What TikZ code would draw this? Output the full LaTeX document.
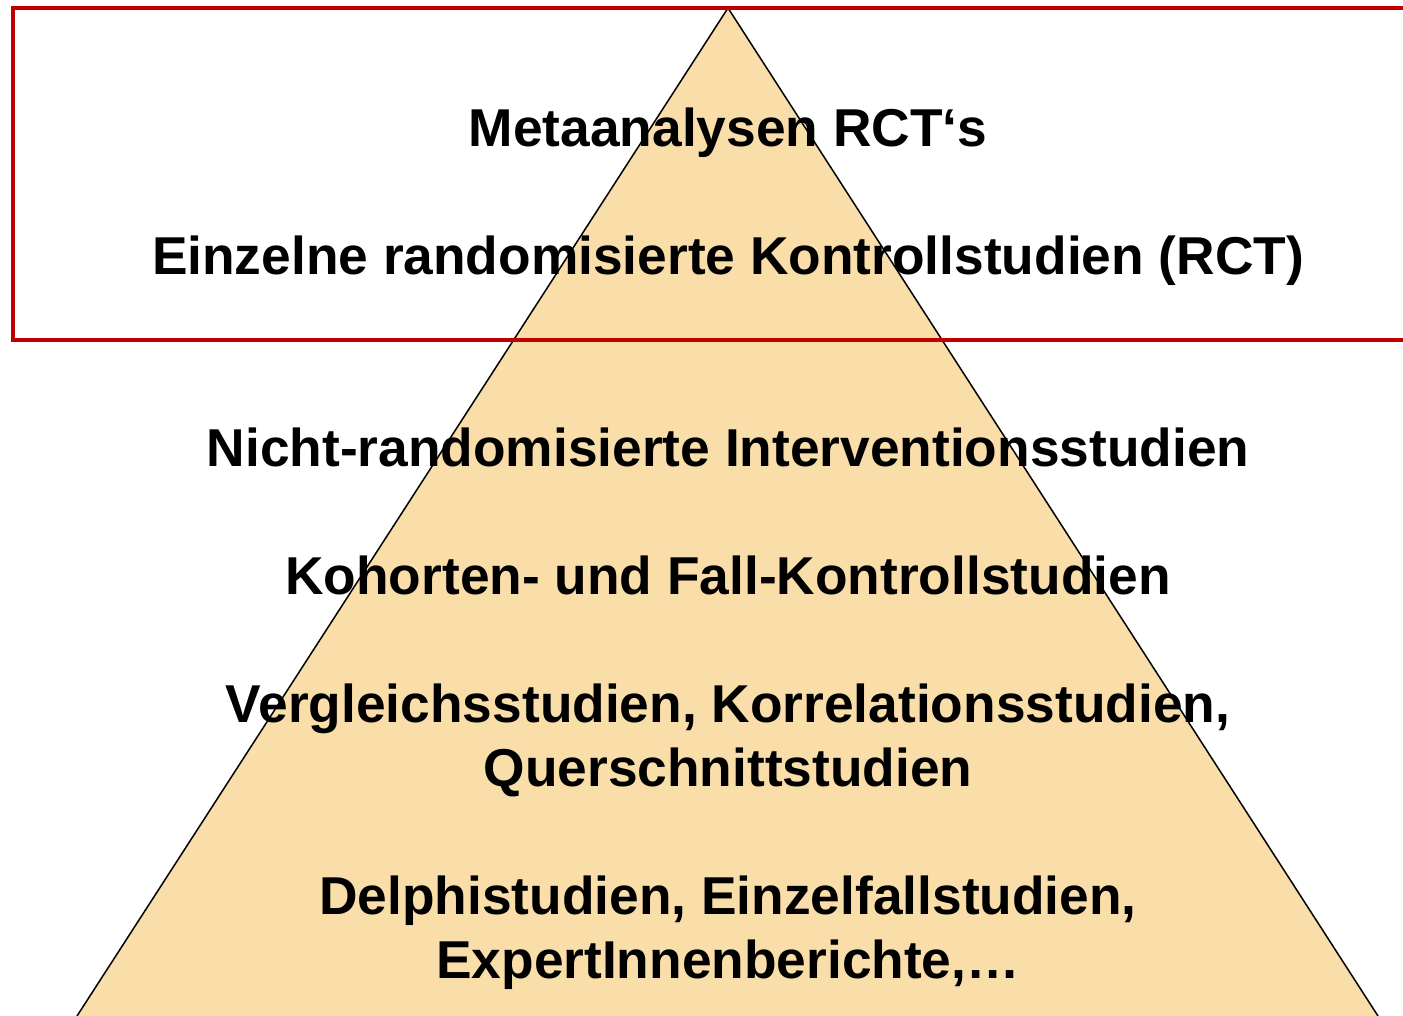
\documentclass[tikz,border=0pt]{standalone}
\usepackage{fontspec}
\setmainfont{Liberation Sans}
\definecolor{pyrfill}{HTML}{F9DEA9}
\definecolor{boxred}{HTML}{C00000}
\begin{document}
\begin{tikzpicture}[x=1pt,y=-1pt,
  level/.style={font=\fontsize{53.3}{64}\selectfont\bfseries, inner sep=0pt, align=center, anchor=base},
  pyramid/.style={draw=black, line width=1.5pt, line join=miter},
  redbox/.style={draw=boxred, line width=3.5pt}]
\useasboundingbox (0,0) rectangle (1403,1016);
\clip (0,0) rectangle (1403,1016);
\coordinate (apex) at (728,8);
\coordinate (bl) at (77,1016);
\coordinate (br) at (1378,1016);
\fill[pyrfill] (bl) -- (apex) -- (br) -- cycle;
\draw[pyramid] (bl) -- (apex) -- (br);
\coordinate (rtl) at (13,8);
\coordinate (rbr) at (1420,340);
\draw[redbox] (rtl) rectangle (rbr);
\node[level] (meta) at (728,147) {Metaanalysen RCT‘s};
\node[level] (rct) at (728,275) {Einzelne randomisierte Kontrollstudien (RCT)};
\node[level] (nrct) at (728,466) {Nicht-randomisierte Interventionsstudien};
\node[level] (koh) at (728,594) {Kohorten- und Fall-Kontrollstudien};
\node[level] (verg) at (728,786) {Vergleichsstudien, Korrelationsstudien,\\Querschnittstudien};
\node[level] (delphi) at (728,978) {Delphistudien, Einzelfallstudien,\\ExpertInnenberichte,…};
\end{tikzpicture}
\end{document}
